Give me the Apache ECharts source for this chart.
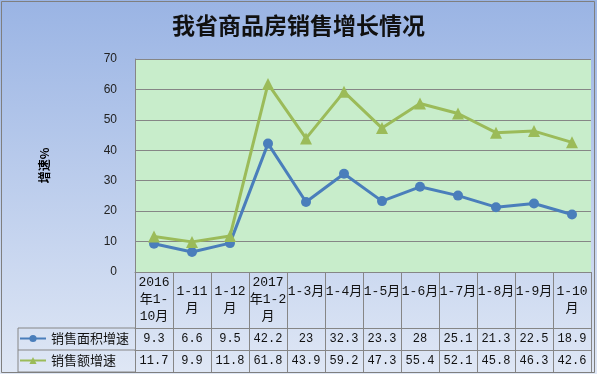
<!DOCTYPE html>
<html>
<head>
<meta charset="utf-8">
<script src="https://cdn.jsdelivr.net/npm/echarts@6/dist/echarts.min.js"></script>
<style>
html,body{margin:0;padding:0;background:#eef3ee;}
#chart{width:597px;height:374px;}
</style>
</head>
<body>
<div id="chart"></div>
<script>
// ---- data ----
const TITLE = '我省商品房销售增长情况';
const Y_NAME = '增速%';
const CATEGORIES = ['2016\n年1-\n10月', '1-11\n月', '1-12\n月', '2017\n年1-2\n月', '1-3月', '1-4月', '1-5月', '1-6月', '1-7月', '1-8月', '1-9月', '1-10\n月'];
const SERIES_NAMES = ['销售面积增速', '销售额增速'];
const AREA_GROWTH = [9.3, 6.6, 9.5, 42.2, 23, 32.3, 23.3, 28, 25.1, 21.3, 22.5, 18.9];
const AMOUNT_GROWTH = [11.7, 9.9, 11.8, 61.8, 43.9, 59.2, 47.3, 55.4, 52.1, 45.8, 46.3, 42.6];
const Y_MIN = 0, Y_MAX = 70, Y_STEP = 10;

// ---- layout ----
const W = 597, H = 374;
const GRID_LEFT = 135, GRID_RIGHT = 6, GRID_TOP = 59, GRID_BOTTOM = 102;
const AXIS_Y = H - GRID_BOTTOM;          // 272
const HEADER_H = 56, ROW_H = 22;
const TABLE_LEFT = 18;
const LINE_GRAY = '#868686';
const BLUE = '#4a7ebb', GREEN = '#9bbb59';
const MONO = '"Liberation Mono","Noto Sans CJK SC",monospace';
const CJK = '"Noto Sans CJK SC",sans-serif';

const chart = echarts.init(document.getElementById('chart'), null, {renderer: 'canvas'});

function rowAxis(offset, values) {
  return {
    type: 'category', gridIndex: 0, position: 'bottom', offset: offset,
    data: CATEGORIES, boundaryGap: true,
    axisLine: {show: true, lineStyle: {color: LINE_GRAY, width: 1}},
    axisTick: {show: false},
    axisLabel: values ? {
      show: true, interval: 0, margin: 5, color: '#111', fontSize: 12, fontFamily: MONO,
      formatter: (v, i) => String(values[i])
    } : {show: false}
  };
}

const r1 = AXIS_Y + HEADER_H, r2 = r1 + ROW_H, r3 = r2 + ROW_H;

const legendCommon = {left: 19, padding: 0, itemWidth: 26, itemHeight: 9, itemGap: 2,
  textStyle: {fontFamily: CJK, fontSize: 13, color: '#111'}, selectedMode: false};

const option = {
  backgroundColor: {
    type: 'linear', x: 0, y: 0, x2: 0, y2: 1,
    colorStops: [{offset: 0, color: '#9ab4e4'}, {offset: 1, color: '#dfe7f5'}]
  },
  animation: false,
  title: {
    text: TITLE, left: 'center', top: 14, padding: 0,
    textStyle: {fontFamily: CJK, fontSize: 23, fontWeight: 'bold', color: '#111'}
  },
  legend: [
    Object.assign({data: [SERIES_NAMES[0]], top: r1 + 4}, legendCommon),
    Object.assign({data: [SERIES_NAMES[1]], top: r2 + 4}, legendCommon)
  ],
  grid: {left: GRID_LEFT, right: GRID_RIGHT, top: GRID_TOP, bottom: GRID_BOTTOM,
         show: true, backgroundColor: '#c8edcb', borderWidth: 0},
  xAxis: [
    {
      type: 'category', gridIndex: 0, position: 'bottom', data: CATEGORIES, boundaryGap: true,
      axisLine: {show: true, lineStyle: {color: LINE_GRAY, width: 1}},
      axisTick: {show: true, length: HEADER_H + 2 * ROW_H, inside: false, interval: 0,
                 lineStyle: {color: LINE_GRAY, width: 1}},
      axisLabel: {
        interval: 0, margin: HEADER_H / 2, verticalAlign: 'middle', lineHeight: 17,
        fontSize: 13, fontFamily: MONO, color: '#111',
        formatter: v => v.indexOf('\n') < 0 ? '{one|' + v + '}' : v,
        rich: {one: {padding: [0, 0, 17, 0], fontSize: 13, fontFamily: MONO, color: '#111'}}
      }
    },
    rowAxis(HEADER_H, AREA_GROWTH),
    rowAxis(HEADER_H + ROW_H, AMOUNT_GROWTH),
    rowAxis(HEADER_H + 2 * ROW_H, null)
  ],
  yAxis: {
    type: 'value', min: Y_MIN, max: Y_MAX, interval: Y_STEP,
    name: Y_NAME, nameLocation: 'middle', nameGap: 85, nameRotate: 90,
    nameTextStyle: {fontFamily: CJK, fontSize: 12, fontWeight: 'bold', color: '#000'},
    axisLine: {show: true, lineStyle: {color: LINE_GRAY, width: 1}},
    axisTick: {show: false},
    axisLabel: {margin: 18, fontSize: 12, fontFamily: '"Liberation Sans",Arial,sans-serif', color: '#222'},
    splitLine: {show: true, lineStyle: {color: LINE_GRAY, width: 1}}
  },
  series: [
    {name: SERIES_NAMES[0], type: 'line', data: AREA_GROWTH, xAxisIndex: 0,
     symbol: 'circle', symbolSize: 10, itemStyle: {color: BLUE},
     lineStyle: {color: BLUE, width: 3}},
    {name: SERIES_NAMES[1], type: 'line', data: AMOUNT_GROWTH, xAxisIndex: 0,
     symbol: 'triangle', symbolSize: 12, itemStyle: {color: GREEN},
     lineStyle: {color: GREEN, width: 3}}
  ],
  graphic: [
    {type: 'rect', silent: true, z: 100, shape: {x: 1.5, y: 1.5, width: W - 4, height: r3 - 1},
     style: {fill: 'none', stroke: '#7f7f7f', lineWidth: 1}},
    {type: 'polyline', silent: true, shape: {points: [[TABLE_LEFT, r1], [GRID_LEFT, r1]]}, style: {stroke: LINE_GRAY, lineWidth: 1}},
    {type: 'polyline', silent: true, shape: {points: [[TABLE_LEFT, r2], [GRID_LEFT, r2]]}, style: {stroke: LINE_GRAY, lineWidth: 1}},
    {type: 'polyline', silent: true, shape: {points: [[TABLE_LEFT, r3], [GRID_LEFT, r3]]}, style: {stroke: LINE_GRAY, lineWidth: 1}},
    {type: 'polyline', silent: true, shape: {points: [[TABLE_LEFT, r1], [TABLE_LEFT, r3]]}, style: {stroke: LINE_GRAY, lineWidth: 1}}
  ]
};
chart.setOption(option);
</script>
</body>
</html>
